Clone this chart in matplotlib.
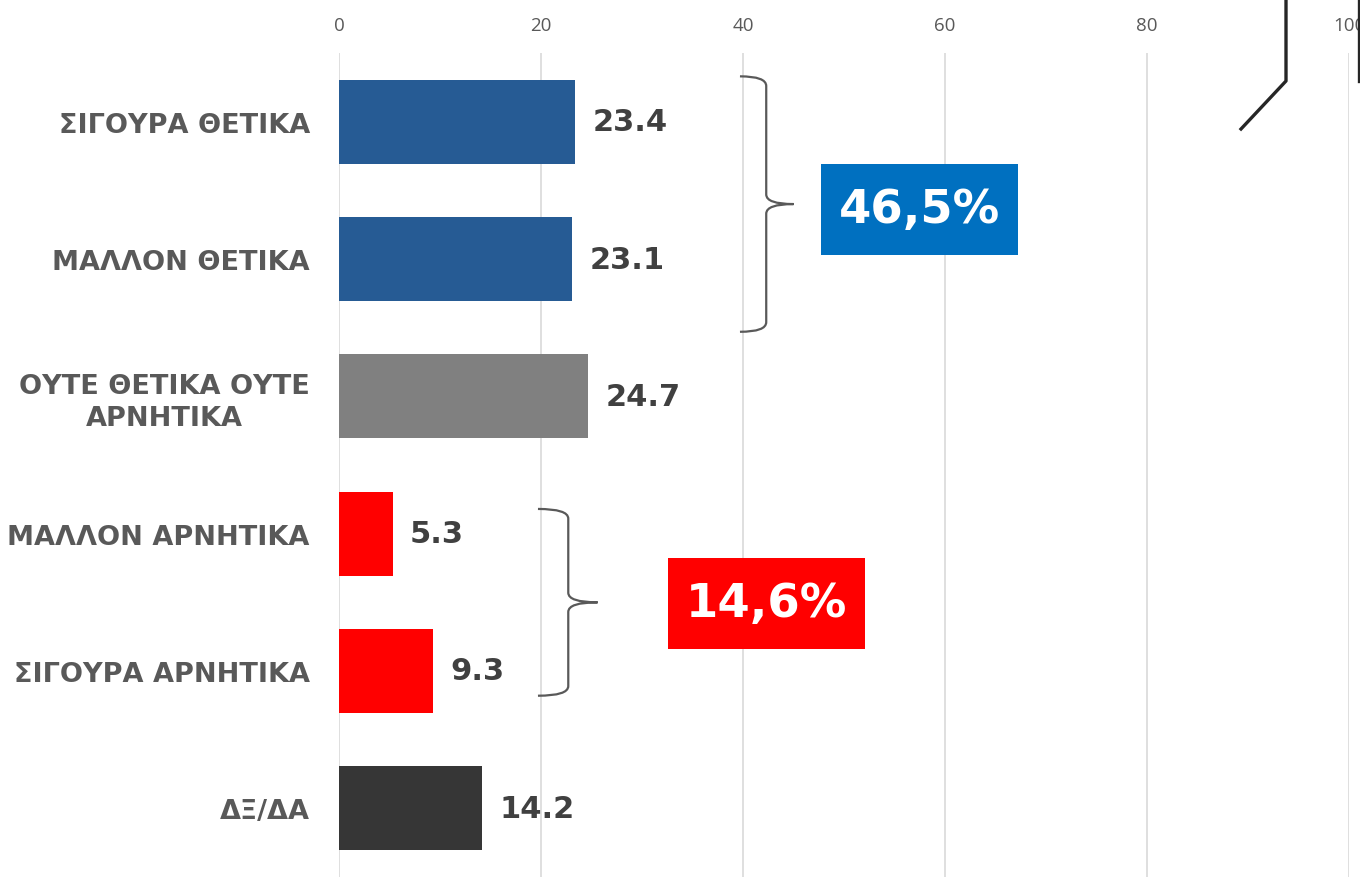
import matplotlib.pyplot as plt
from matplotlib.patches import Rectangle, PathPatch
from matplotlib.path import Path
from matplotlib.lines import Line2D

categories = ["ΣΙΓΟΥΡΑ ΘΕΤΙΚΑ", "ΜΑΛΛΟΝ ΘΕΤΙΚΑ", "ΟΥΤΕ ΘΕΤΙΚΑ ΟΥΤΕ\nΑΡΝΗΤΙΚΑ",
              "ΜΑΛΛΟΝ ΑΡΝΗΤΙΚΑ", "ΣΙΓΟΥΡΑ ΑΡΝΗΤΙΚΑ", "ΔΞ/ΔΑ"]
values = [23.4, 23.1, 24.7, 5.3, 9.3, 14.2]
colors = ["#265B94", "#265B94", "#808080", "#FF0000", "#FF0000", "#363636"]
ticks = [0, 20, 40, 60, 80, 100]

groups = ["46,5%", "14,6%"]
group_colors = ["#0070C0", "#FF0000"]

fig = plt.figure(figsize=(13.6, 8.78), dpi=100)
ax = fig.add_axes([339 / 1360, 0.0, 1010 / 1360, 1 - 54 / 878])
ax.set_xlim(0, 100)
ax.set_ylim(5.5, -0.5)

ax.barh(range(len(values)), values, height=0.61, color=colors, zorder=2)
for i, v in enumerate(values):
    ax.text(v + 1.7, i, f"{v:.1f}", va="center", ha="left", fontsize=22,
            fontweight="bold", color="#404040", zorder=3)

ax.set_xticks(ticks)
ax.xaxis.tick_top()
ax.tick_params(axis="x", length=0, pad=14, labelsize=13.5, labelcolor="#595959")
for lab in ax.get_xticklabels():
    lab.set_family("Open Sans")
ax.set_yticks(range(len(categories)))
ax.set_yticklabels(categories, fontsize=19.5, fontweight="bold", color="#595959",
                   multialignment="center", linespacing=1.3)
ax.tick_params(axis="y", length=0, pad=21)
ax.grid(axis="x", color="#D9D9D9", linewidth=1.2, zorder=0)
ax.set_axisbelow(True)
for s in ax.spines.values():
    s.set_visible(False)


def brace(x, y0, y1, xl, xt, c=0.07):
    ym = (y0 + y1) / 2
    verts = [(xl, y0), (x, y0), (x, y0 + c),
             (x, ym - c), (x, ym), (xt, ym),
             (x, ym), (x, ym + c),
             (x, y1 - c), (x, y1), (xl, y1)]
    codes = [Path.MOVETO, Path.CURVE3, Path.CURVE3,
             Path.LINETO, Path.CURVE3, Path.CURVE3,
             Path.CURVE3, Path.CURVE3,
             Path.LINETO, Path.CURVE3, Path.CURVE3]
    ax.add_patch(PathPatch(Path(verts, codes), fill=False, edgecolor="#595959",
                           linewidth=1.6, zorder=4, clip_on=False))


brace(42.3, -0.33, 1.53, 39.7, 45.0)
brace(22.7, 2.82, 4.18, 19.7, 25.6)

# percentage boxes
boxes = [(47.7, 0.31, 19.5, 0.66), (32.6, 3.18, 19.5, 0.66)]
for (x0, y0, w, h), txt, col in zip(boxes, groups, group_colors):
    ax.add_patch(Rectangle((x0, y0), w, h, facecolor=col, edgecolor="none", zorder=4))
    ax.text(x0 + w / 2, y0 + h / 2, txt, ha="center", va="center", fontsize=33.5,
            fontweight="bold", color="white", zorder=5)

# partial shapes cut by the top-right edge
fig.add_artist(Line2D([1286 / 1360, 1286 / 1360, 1241 / 1360],
                      [1.0, 1 - 82 / 878, 1 - 130 / 878],
                      color="#262626", linewidth=2.4))
fig.add_artist(Line2D([1359 / 1360, 1359 / 1360], [1.0, 1 - 82 / 878],
                      color="#262626", linewidth=2.4))

fig.savefig("out.png", dpi=100)
